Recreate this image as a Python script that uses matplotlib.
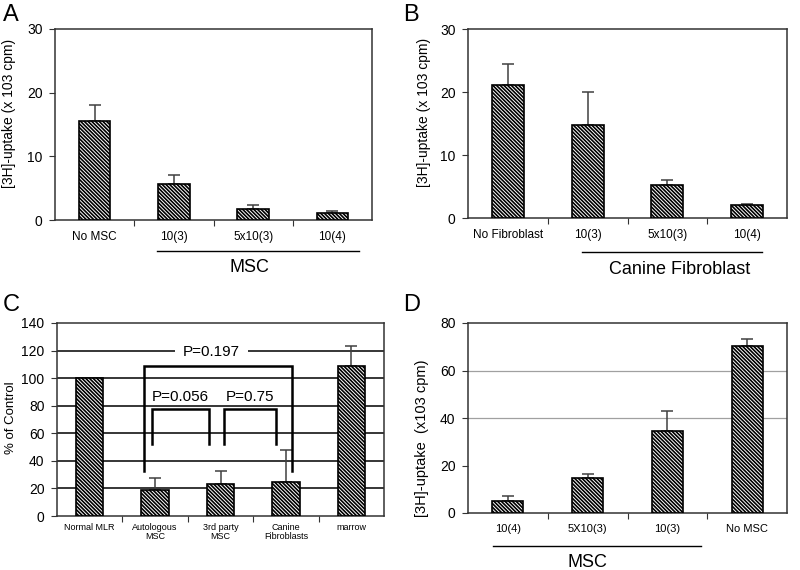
import matplotlib
matplotlib.use("Agg")
import matplotlib.pyplot as plt
import matplotlib.transforms as mtransforms
import numpy as np

plt.rcParams['font.family'] = ['Liberation Sans', 'DejaVu Sans']
plt.rcParams['hatch.linewidth'] = 1.2

# panel A
a_labels = ["No MSC", "10(3)", "5x10(3)", "10(4)"]
a_vals = [15.5, 5.6, 1.8, 1.1]
a_err = [2.5, 1.4, 0.5, 0.3]

# panel B
b_labels = ["No Fibroblast", "10(3)", "5x10(3)", "10(4)"]
b_vals = [21.1, 14.8, 5.3, 2.0]
b_err = [3.4, 5.2, 0.7, 0.3]

# panel C
c_labels = ["Normal MLR", "Autologous\nMSC", "3rd party\nMSC", "Canine\nFibroblasts", "marrow"]
c_vals = [100, 18.5, 23.5, 25, 109]
c_err = [0, 9, 9.5, 23, 14]
c_grid = [20, 40, 60, 80, 100, 120]
# brackets: (x left, x right, top, bottom of legs, text, text x, text y)
c_brackets = [
    (0.83, 3.09, 109, 33, "P=0.197", 1.86, 119),
    (0.955, 1.83, 77.5, 52, "P=0.056", 1.38, 86.5),
    (2.05, 2.85, 77.5, 52, "P=0.75", 2.45, 86.5),
]

# panel D
d_labels = ["10(4)", "5X10(3)", "10(3)", "No MSC"]
d_vals = [5.0, 14.7, 34.5, 70.5]
d_err = [2.3, 1.8, 8.5, 2.8]
d_grid = [40, 60]

W, H = 800, 570
fig = plt.figure(figsize=(8, 5.7), dpi=100)


def make_ax(l, r, t, b):
    return fig.add_axes([l / W, 1 - b / H, (r - l) / W, (b - t) / H])


def bars(ax, labels, vals, err, ymax, step, width=0.4, lab_size=8.5, lab_pad=8):
    x = np.arange(len(vals))
    ax.bar(x, vals, width=width, color='white', edgecolor='black', linewidth=1.2,
           hatch='\\' * 9, zorder=3)
    up = np.array(err)
    mask = up > 0
    ax.errorbar(x[mask], np.array(vals)[mask], yerr=[np.zeros(mask.sum()), up[mask]],
                fmt='none', ecolor='#404040', elinewidth=1.1, capsize=4, capthick=1.1, zorder=2)
    ax.set_xlim(-0.5, len(vals) - 0.5)
    ax.set_ylim(0, ymax)
    ax.set_yticks(np.arange(0, ymax + 1, step))
    ax.set_xticks(np.arange(len(vals) - 1) + 0.5)
    ax.set_xticklabels([])
    ax.set_xticks(x, minor=True)
    ax.set_xticklabels(labels, minor=True, fontsize=lab_size, linespacing=1.05)
    ax.tick_params(axis='x', which='major', direction='out', length=4, color='#333333')
    ax.tick_params(axis='x', which='minor', length=0, pad=lab_pad)
    ax.tick_params(axis='y', direction='out', length=4, labelsize=10, pad=5, color='#333333')
    for s in ax.spines.values():
        s.set_color('#333333')
        s.set_linewidth(1.1)
    return ax


def group_line(ax, x0, x1, y, text, tx, ty, size=13):
    tr = mtransforms.blended_transform_factory(ax.transData, ax.transAxes)
    ax.plot([x0, x1], [y, y], color='black', lw=1.0, transform=tr, clip_on=False)
    ax.text(tx, ty, text, transform=tr, ha='center', va='center', fontsize=size)


# A
ax = make_ax(55, 372, 29, 220)
bars(ax, a_labels, a_vals, a_err, 30, 10)
ax.set_ylabel("[3H]-uptake (x 103 cpm)", fontsize=10)
ax.yaxis.set_label_coords(-0.123, 0.56)
group_line(ax, 0.79, 3.34, -0.162, "MSC", 1.95, -0.25)
fig.text(3 / W, 1 - 15 / H, "A", fontsize=17, va='center', ha='left')

# B
ax = make_ax(468, 787, 29, 218)
bars(ax, b_labels, b_vals, b_err, 30, 10)
ax.set_ylabel("[3H]-uptake (x 103 cpm)", fontsize=10)
ax.yaxis.set_label_coords(-0.116, 0.556)
group_line(ax, 0.93, 3.19, -0.18, "Canine Fibroblast", 2.15, -0.275)
fig.text(403 / W, 1 - 15 / H, "B", fontsize=17, va='center', ha='left')

# C
ax = make_ax(57, 384, 323, 516)
bars(ax, c_labels, c_vals, c_err, 140, 20, width=0.42, lab_size=6.5, lab_pad=5)
for g in c_grid:
    ax.axhline(g, color='black', lw=1.1, zorder=1)
for x0, x1, top, bot, txt, tx, ty in c_brackets:
    ax.plot([x0, x0, x1, x1], [bot, top, top, bot], color='black', lw=1.8, zorder=4,
            solid_joinstyle='miter')
    ax.text(tx, ty, txt, ha='center', va='center', fontsize=11, zorder=5)
# white gap in the 120 gridline around the P=0.197 label
ax.hlines(c_brackets[0][6] + 1, c_brackets[0][5] - 0.56, c_brackets[0][5] + 0.56,
          color='white', lw=3, zorder=2)
ax.set_ylabel("% of Control", fontsize=9.5)
ax.yaxis.set_label_coords(-0.122, 0.51)
fig.text(3 / W, 1 - 305 / H, "C", fontsize=17, va='center', ha='left')

# D
ax = make_ax(468, 787, 323, 513)
bars(ax, d_labels, d_vals, d_err, 80, 20, width=0.39, lab_size=8)
for g in d_grid:
    ax.axhline(g, color='#a0a0a0', lw=0.9, zorder=1)
ax.set_ylabel("[3H]-uptake  (x103 cpm)", fontsize=10.5)
ax.yaxis.set_label_coords(-0.122, 0.395)
group_line(ax, -0.19, 2.42, -0.174, "MSC", 1.0, -0.26)
fig.text(403 / W, 1 - 305 / H, "D", fontsize=17, va='center', ha='left')

fig.savefig("out.png", dpi=100)
